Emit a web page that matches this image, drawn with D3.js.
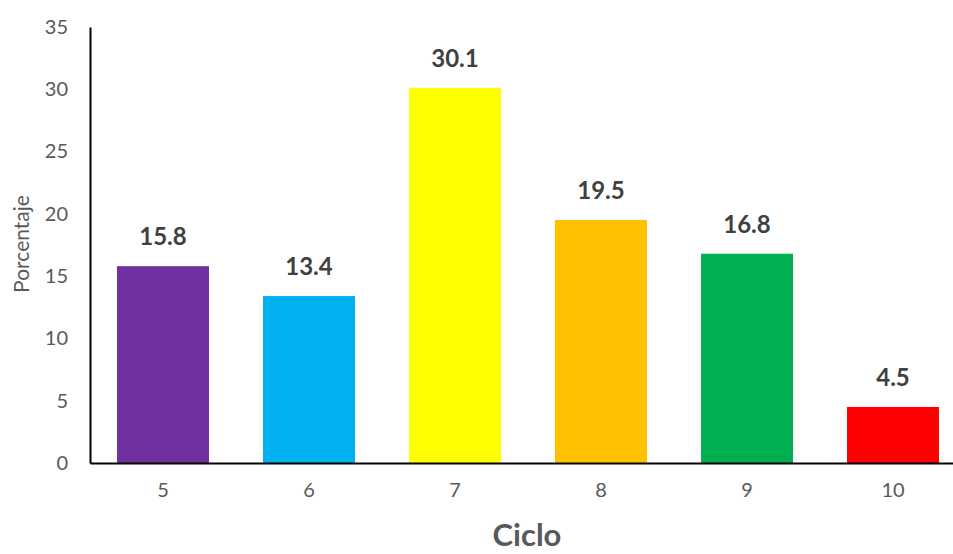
<!DOCTYPE html>
<html>
<head>
<meta charset="utf-8">
<script src="https://cdn.jsdelivr.net/npm/d3@7"></script>
<style>
  body { margin: 0; background: #fff; }
  text { font-family: Lato, "Open Sans", sans-serif; }
</style>
</head>
<body>
<script>
  // chart data
  let ciclos = ["5", "6", "7", "8", "9", "10"];
  let porcentajes = [15.8, 13.4, 30.1, 19.5, 16.8, 4.5];
  let colores = ["#7030a0", "#00b0f0", "#ffff00", "#ffc000", "#00b050", "#ff0000"];
  let yTicks = [0, 5, 10, 15, 20, 25, 30, 35];

  let width = 953;
  let height = 554;

  let svg = d3.select("body").append("svg")
    .attr("width", width).attr("height", height);

  let x = d3.scaleBand()
    .domain(ciclos)
    .range([90, 966])
    .paddingInner(0.37)
    .paddingOuter(0.185);

  let y = d3.scaleLinear()
    .domain([0, 35])
    .range([463, 27]);

  // y axis
  let yAxis = svg.append("g")
    .attr("transform", "translate(90,0)")
    .call(d3.axisLeft(y).tickValues(yTicks).tickSize(0).tickPadding(22));
  yAxis.select(".domain").attr("stroke", "#000").attr("stroke-width", 2);
  yAxis.selectAll("text")
    .style("font-size", "20px")
    .style("fill", "#595959");

  // bars
  svg.append("g")
    .selectAll("rect")
    .data(porcentajes)
    .enter()
    .append("rect")
      .attr("x", (d, i) => x(ciclos[i]))
      .attr("y", d => y(d))
      .attr("width", x.bandwidth())
      .attr("height", d => y(0) - y(d))
      .attr("fill", (d, i) => colores[i]);

  // value labels
  svg.append("g")
    .selectAll("text")
    .data(porcentajes)
    .enter()
    .append("text")
      .attr("x", (d, i) => x(ciclos[i]) + x.bandwidth() / 2)
      .attr("y", d => y(d) - 21)
      .attr("text-anchor", "middle")
      .style("font-size", "24px")
      .style("font-weight", "bold")
      .style("fill", "#404040")
      .text(d => d.toFixed(1));

  // x axis
  let xAxis = svg.append("g")
    .attr("transform", "translate(0,463)")
    .call(d3.axisBottom(x).tickSize(0).tickPadding(20));
  xAxis.select(".domain").attr("stroke", "#000").attr("stroke-width", 2);
  xAxis.selectAll("text")
    .style("font-size", "20px")
    .style("fill", "#595959");

  // axis titles
  svg.append("text")
    .attr("x", 527)
    .attr("y", 546)
    .attr("text-anchor", "middle")
    .style("font-size", "31px")
    .style("font-weight", "bold")
    .style("fill", "#595959")
    .text("Ciclo");

  svg.append("text")
    .attr("transform", "translate(29,244) rotate(-90)")
    .attr("text-anchor", "middle")
    .style("font-size", "21px")
    .style("fill", "#595959")
    .text("Porcentaje");
</script>
</body>
</html>
